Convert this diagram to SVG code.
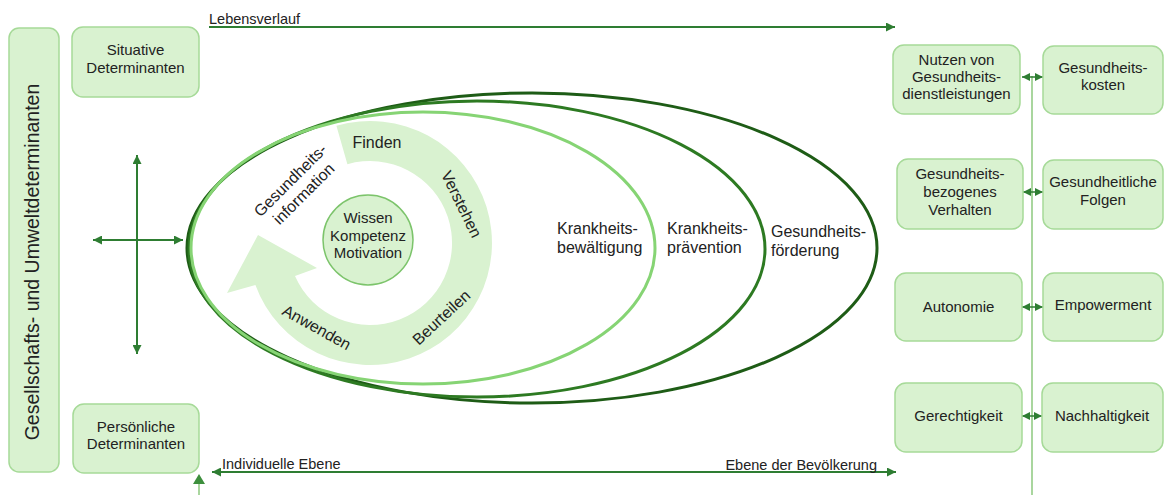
<svg xmlns="http://www.w3.org/2000/svg" width="1165" height="495" viewBox="0 0 1165 495">
<defs>
<style>
.box{fill:#d9f2d0;stroke:#a6da98;stroke-width:1.5}
.t{font-family:"Liberation Sans",Arial,sans-serif;font-size:15px;fill:#222;text-anchor:middle}
.tl{font-family:"Liberation Sans",Arial,sans-serif;font-size:16px;fill:#222}
.tr{font-family:"Liberation Sans",Arial,sans-serif;font-size:16px;fill:#222;text-anchor:middle}
.small{font-family:"Liberation Sans",Arial,sans-serif;font-size:14.5px;fill:#222}
.arr{stroke:#2e7d32;stroke-width:2;fill:none}
.arrs{stroke:#2e7d32;stroke-width:1.5;fill:none}
.lite{stroke:#8cc97e;stroke-width:1.5;fill:none}
</style>
<marker id="ah" viewBox="0 0 10 10" refX="10" refY="5" markerUnits="userSpaceOnUse" markerWidth="10" markerHeight="9" orient="auto-start-reverse">
<path d="M0,0 L10,5 L0,10 Z" fill="#2e7d32"/>
</marker>
<marker id="ahs" viewBox="0 0 10 10" refX="10" refY="5" markerUnits="userSpaceOnUse" markerWidth="8" markerHeight="8" orient="auto-start-reverse">
<path d="M0,0 L10,5 L0,10 Z" fill="#2e7d32"/>
</marker>
</defs>
<rect width="1165" height="495" fill="#ffffff"/>

<g id="connectors">
<line class="lite" x1="1032" y1="76" x2="1032" y2="495"/>
<line class="arr" x1="209" y1="27" x2="895" y2="27" marker-end="url(#ah)"/>
<line class="arr" x1="212" y1="472" x2="896" y2="472" marker-start="url(#ah)" marker-end="url(#ah)"/>
<line class="arr" x1="137" y1="155" x2="137" y2="354" marker-start="url(#ah)" marker-end="url(#ah)"/>
<line class="arr" x1="93" y1="240" x2="183" y2="240" marker-start="url(#ah)" marker-end="url(#ah)"/>
<line class="lite" x1="199" y1="495" x2="199" y2="476"/>
<path d="M193,484 L199,474 L205,484 Z" fill="#3d8f3d"/>
<line class="arrs" x1="1022" y1="77" x2="1043" y2="77" marker-start="url(#ahs)" marker-end="url(#ahs)"/>
<line class="arrs" x1="1023" y1="192" x2="1043" y2="192" marker-start="url(#ahs)" marker-end="url(#ahs)"/>
<line class="arrs" x1="1022" y1="307" x2="1043" y2="307" marker-start="url(#ahs)" marker-end="url(#ahs)"/>
<line class="arrs" x1="1022" y1="416" x2="1042" y2="416" marker-start="url(#ahs)" marker-end="url(#ahs)"/>
</g>

<g id="labels-axes">
<text class="small" x="209" y="24">Lebensverlauf</text>
<text class="small" x="222" y="469">Individuelle Ebene</text>
<text class="small" x="877" y="470" text-anchor="end">Ebene der Bevölkerung</text>
</g>

<g id="ellipse-foerderung">
<ellipse cx="532" cy="248" rx="345" ry="155" fill="none" stroke="#1e5c16" stroke-width="3"/>
<text class="tl" x="771" y="237">Gesundheits-</text>
<text class="tl" x="771" y="256">förderung</text>
</g>
<g id="ellipse-praevention">
<ellipse cx="477" cy="249" rx="288" ry="148" fill="none" stroke="#2d7a22" stroke-width="3"/>
<text class="tl" x="667" y="234">Krankheits-</text>
<text class="tl" x="667" y="253">prävention</text>
</g>
<g id="ellipse-bewaeltigung">
<ellipse cx="423" cy="248" rx="232" ry="136" fill="none" stroke="#86d474" stroke-width="3"/>
<text class="tl" x="557" y="234">Krankheits-</text>
<text class="tl" x="557" y="253">bewältigung</text>
</g>

<g id="cycle">
<path d="M336.4,125.7 A122,122 0 1 1 255.4,284.9 L227,293 L258,235 L317,268 L295,276.1 A82,82 0 1 0 347.4,164.2 Z" fill="#d9f2d0"/>
<text class="tr" x="377" y="148">Finden</text>
<text class="tr" transform="translate(462,204) rotate(64)" y="6">Verstehen</text>
<text class="tr" transform="translate(441,317) rotate(-43)" y="6">Beurteilen</text>
<text class="tr" transform="translate(317,327) rotate(29)" y="6">Anwenden</text>
<g transform="translate(297,187) rotate(-45)">
<text class="tr" x="0" y="-4">Gesundheits-</text>
<text class="tr" x="0" y="15">information</text>
</g>
</g>

<g id="center">
<circle cx="368" cy="240" r="45" fill="#d9f2d0" stroke="#7cc46b" stroke-width="1.5"/>
<text class="t" x="368" y="223">Wissen</text>
<text class="t" x="368" y="241">Kompetenz</text>
<text class="t" x="368" y="258">Motivation</text>
</g>

<g id="gesellschaft">
<rect class="box" x="9" y="28" width="50" height="444" rx="10"/>
<text transform="translate(39,262) rotate(-90)" font-family="Liberation Sans, Arial, sans-serif" font-size="19.5" fill="#222" text-anchor="middle">Gesellschafts- und Umweltdeterminanten</text>
</g>
<g id="situative">
<rect class="box" x="72" y="27" width="127" height="70" rx="11"/>
<text class="t" x="135.5" y="55">Situative</text>
<text class="t" x="135.5" y="73">Determinanten</text>
</g>
<g id="persoenliche">
<rect class="box" x="73" y="404" width="126" height="69" rx="11"/>
<text class="t" x="136" y="432">Persönliche</text>
<text class="t" x="136" y="449">Determinanten</text>
</g>

<g id="nutzen">
<rect class="box" x="893" y="45" width="127" height="69" rx="11"/>
<text class="t" x="956.5" y="65">Nutzen von</text>
<text class="t" x="956.5" y="82">Gesundheits-</text>
<text class="t" x="956.5" y="99">dienstleistungen</text>
</g>
<g id="kosten">
<rect class="box" x="1043" y="46" width="120" height="68" rx="11"/>
<text class="t" x="1103" y="73">Gesundheits-</text>
<text class="t" x="1103" y="90">kosten</text>
</g>
<g id="verhalten">
<rect class="box" x="897" y="159" width="126" height="70" rx="11"/>
<text class="t" x="960" y="179">Gesundheits-</text>
<text class="t" x="960" y="197">bezogenes</text>
<text class="t" x="960" y="215">Verhalten</text>
</g>
<g id="folgen">
<rect class="box" x="1043" y="160" width="120" height="69" rx="11"/>
<text class="t" x="1103" y="187">Gesundheitliche</text>
<text class="t" x="1103" y="205">Folgen</text>
</g>
<g id="autonomie">
<rect class="box" x="895" y="273" width="127" height="68" rx="11"/>
<text class="t" x="958.5" y="312">Autonomie</text>
</g>
<g id="empowerment">
<rect class="box" x="1043" y="273" width="120" height="68" rx="11"/>
<text class="t" x="1103" y="310">Empowerment</text>
</g>
<g id="gerechtigkeit">
<rect class="box" x="895" y="383" width="127" height="69" rx="11"/>
<text class="t" x="958.5" y="421">Gerechtigkeit</text>
</g>
<g id="nachhaltigkeit">
<rect class="box" x="1042" y="383" width="121" height="69" rx="11"/>
<text class="t" x="1102" y="421">Nachhaltigkeit</text>
</g>
</svg>
